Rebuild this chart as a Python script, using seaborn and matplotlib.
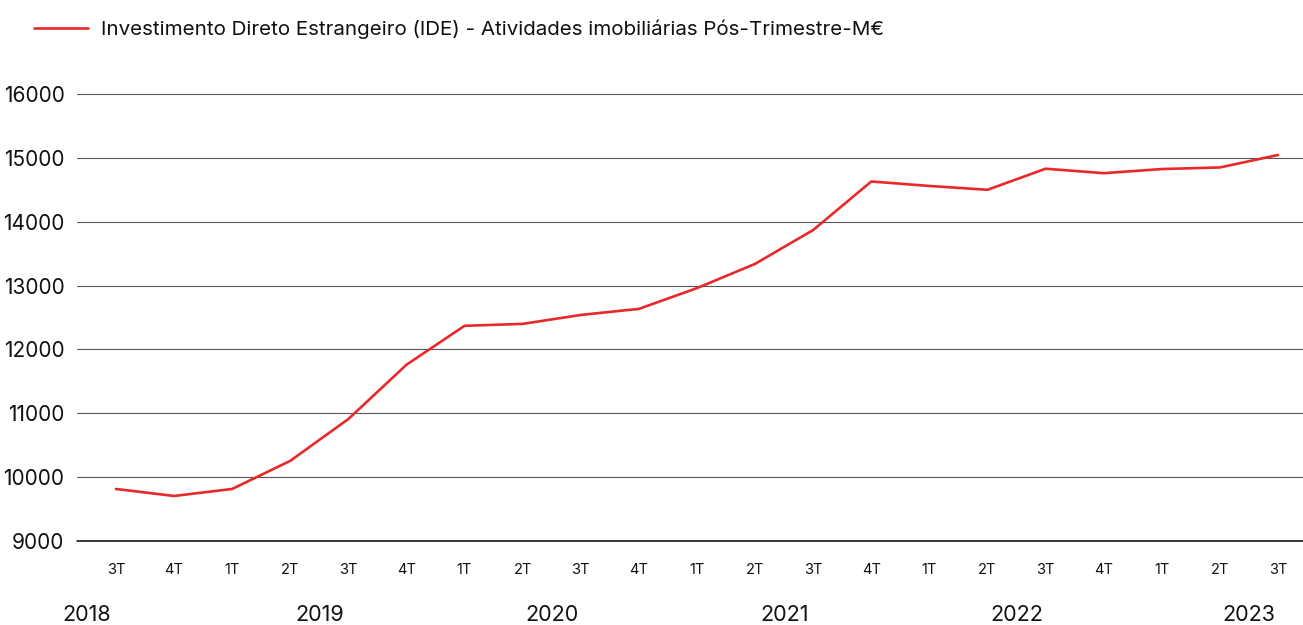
"""Recreate the IDE - Atividades imobiliárias quarterly line chart."""

import matplotlib

matplotlib.use("Agg")
import matplotlib.pyplot as plt  # noqa: E402
import matplotlib.transforms as mtransforms  # noqa: E402
import pandas as pd  # noqa: E402
import seaborn as sns  # noqa: E402

SERIES_LABEL = "Investimento Direto Estrangeiro (IDE) - Atividades imobiliárias Pós-Trimestre-M€"
QUARTERS = ["3T", "4T", "1T", "2T", "3T", "4T", "1T", "2T", "3T", "4T", "1T",
            "2T", "3T", "4T", "1T", "2T", "3T", "4T", "1T", "2T", "3T"]
YEARS = [2018, 2018, 2019, 2019, 2019, 2019, 2020, 2020, 2020, 2020, 2021,
         2021, 2021, 2021, 2022, 2022, 2022, 2022, 2023, 2023, 2023]
VALUES = [9815, 9705, 9815, 10255, 10910, 11760, 12370, 12400, 12540, 12635, 12960,
          13340, 13870, 14630, 14560, 14500, 14830, 14760, 14825, 14850, 15045]
YEAR_LABELS = ["2018", "2019", "2020", "2021", "2022", "2023"]
Y_TICKS = [9000, 10000, 11000, 12000, 13000, 14000, 15000, 16000]

RED = "#e8292b"
FONT = ["Inter", "DejaVu Sans"]


def main() -> None:
    sns.set_theme(style="white")
    plt.rcParams["font.family"] = FONT

    df = pd.DataFrame({"idx": range(len(VALUES)), "value": VALUES,
                       "quarter": QUARTERS, "year": YEARS})

    fig = plt.figure(figsize=(13.03, 6.25), dpi=100)
    ax = fig.add_axes([77 / 1303, 84 / 625, 1 - 77 / 1303, (541 - 94) / 625])

    for y in Y_TICKS[1:]:
        ax.axhline(y, color="#555555", linewidth=0.8, zorder=1, clip_on=False)
    ax.axhline(Y_TICKS[0], color="black", linewidth=1.1, zorder=1, clip_on=False)

    sns.lineplot(data=df, x="idx", y="value", color=RED, linewidth=1.9, ax=ax,
                 label=SERIES_LABEL, zorder=3)

    ax.set_xlim(-0.67, len(VALUES) - 1 + 0.43)
    ax.set_ylim(Y_TICKS[0], Y_TICKS[-1])
    ax.set_yticks(Y_TICKS)
    ax.set_yticklabels([str(t) for t in Y_TICKS], fontsize=15, color="#111111")
    ax.set_xticks(df["idx"])
    ax.set_xticklabels(df["quarter"], fontsize=10.5, color="#111111")
    ax.tick_params(axis="x", length=0, pad=16)
    ax.tick_params(axis="y", length=0, pad=9)
    ax.set_xlabel("")
    ax.set_ylabel("")
    for spine in ax.spines.values():
        spine.set_visible(False)

    # Year labels centred under their quarters (Q1..Q4 positions)
    trans = mtransforms.blended_transform_factory(ax.transData, ax.transAxes)
    for year in YEAR_LABELS:
        year_idx = int(year)
        first_q = df.loc[df["year"] == year_idx, "idx"].iloc[0]
        q_num = int(df.loc[df["year"] == year_idx, "quarter"].iloc[0][0])
        center = first_q - (q_num - 1) + 1.5
        ax.text(center, -74 / 447, year, transform=trans, ha="center", va="center",
                fontsize=15.5, color="#111111")

    leg = ax.legend(loc="upper left", bbox_to_anchor=(-51 / 1226, 1 + 83 / 447),
                    frameon=False, fontsize=14.8, handlelength=2.6, handletextpad=0.65,
                    borderaxespad=0)
    for text in leg.get_texts():
        text.set_color("#111111")

    fig.savefig("out.png", dpi=100)
    plt.close(fig)


if __name__ == "__main__":
    main()
